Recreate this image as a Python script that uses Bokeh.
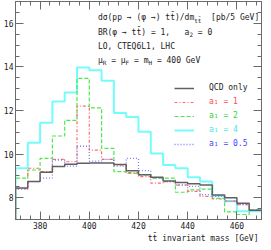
import re
import unicodedata
from bokeh.plotting import figure
from bokeh.models import (Range1d, LinearAxis, SingleIntervalTicker, Label,
                          Legend, LegendItem, Title, CustomLabelingPolicy)
from bokeh.embed import file_html
from bokeh.resources import INLINE

# ---------------- data ----------------
mass_edges = [370, 375, 380, 385, 390, 395, 400, 405, 410, 415, 420,
              425, 430, 435, 440, 445, 450, 455, 460, 465, 470]
qcd_only = [8.44, 8.74, 9.17, 9.43, 9.53, 9.58, 9.59, 9.59, 9.52, 9.24,
            9.05, 8.94, 8.77, 8.70, 8.64, 8.58, 8.12, 8.00, 7.74, 7.43]
a1_eq_1 = [8.42, 9.35, 9.20, 9.76, 9.65, 12.20, 10.18, 9.76, 9.50, 9.15,
           8.97, 8.67, 8.74, 8.58, 8.29, 8.06, 7.94, 7.84, 7.68, 7.43]
a1_eq_2 = [8.90, 9.27, 9.80, 10.83, 11.55, 13.47, 12.12, 10.26, 9.20, 9.12,
           9.05, 8.90, 8.90, 8.25, 8.36, 8.39, 7.97, 7.35, 7.23, 7.43]
a1_eq_4 = [9.35, 10.52, 11.44, 12.41, 12.83, 13.97, 13.85, 13.36, 11.88, 11.70,
           11.02, 10.03, 9.50, 9.35, 8.94, 8.74, 8.09, 7.84, 7.38, 7.38]
a1_eq_05 = [8.39, 8.74, 8.90, 9.73, 9.45, 10.36, 9.68, 9.76, 9.45, 9.80,
            9.24, 8.90, 8.74, 8.59, 8.52, 8.14, 8.06, 7.84, 7.68, 7.43]
x_lim = (370, 470)
y_lim = (7, 17)

MONO = "DejaVu Sans Mono"
AX = "#6a6a6a"

p = figure(width=263, height=242, output_backend="svg", toolbar_location=None,
           x_range=Range1d(*x_lim), y_range=Range1d(*y_lim),
           min_border_left=14, min_border_right=2, min_border_top=1,
           min_border_bottom=0, x_axis_location=None, y_axis_location=None)
p.grid.visible = False
p.outline_line_color = AX
p.background_fill_color = "white"

no_labels = CustomLabelingPolicy(code="return new Set()")


def style_axis(ax, interval, nminor, labels=True):
    ax.ticker = SingleIntervalTicker(interval=interval, num_minor_ticks=nminor)
    ax.axis_line_color = AX
    ax.major_tick_line_color = AX
    ax.minor_tick_line_color = AX
    ax.major_tick_in = 8
    ax.major_tick_out = 0
    ax.minor_tick_in = 4
    ax.minor_tick_out = 0
    ax.major_label_text_font = MONO
    ax.major_label_text_color = "#222222"
    if labels:
        ax.major_label_text_font_size = "8px"
        ax.major_label_standoff = 2
    else:
        ax.major_label_text_font_size = "0px"
        ax.major_label_standoff = 0
        ax.major_label_policy = no_labels


xb = LinearAxis(); style_axis(xb, 20, 5); p.add_layout(xb, "below")
xt = LinearAxis(); style_axis(xt, 20, 5, False); p.add_layout(xt, "above")
yl = LinearAxis(); style_axis(yl, 2, 4); p.add_layout(yl, "left")
yr = LinearAxis(); style_axis(yr, 2, 4, False); p.add_layout(yr, "right")

p.add_layout(Title(text="tt\u0304 invariant mass [GeV]",
                   align="right", text_font=MONO, text_font_size="8px",
                   text_font_style="normal", text_color="#222222",
                   offset=3, standoff=0), "below")


def step_path(edges, vals, base):
    xs, ys = [edges[0]], [base]
    for i, v in enumerate(vals):
        xs += [edges[i], edges[i + 1]]
        ys += [v, v]
    return xs, ys


series = [
    ("a\u2081 = 4", a1_eq_4, "#74fcfc", "#3ee8e8", 2.0, "solid"),
    ("a\u2081 = 2", a1_eq_2, "#4ce84c", "#2ed62e", 1.2, "4 2"),
    ("a\u2081 = 1", a1_eq_1, "#ff6a6a", "#ff4a4a", 1.2, "3 2 1 2"),
    ("a\u2081 = 0.5", a1_eq_05, "#7a7aff", "#4444ff", 1.3, "1 2"),
    ("QCD only", qcd_only, "#606060", "#222222", 1.5, "solid"),
]
rend = {}
for name, vals, col, tcol, lw, dash in series:
    xs, ys = step_path(mass_edges, vals, y_lim[0])
    rend[name] = p.line(xs, ys, line_color=col, line_width=lw, line_dash=dash)

legend_order = ["QCD only", "a\u2081 = 1", "a\u2081 = 2", "a\u2081 = 4", "a\u2081 = 0.5"]
tcolors = {s[0]: s[3] for s in series}
row_centers = [131.5, 117.4, 103.4, 89.3, 75.3]
for name, yc in zip(legend_order, row_centers):
    lg = Legend(items=[LegendItem(label=name, renderers=[rend[name]])],
                location=(159, yc - 5), border_line_color=None,
                background_fill_alpha=0, label_text_color=tcolors[name],
                label_text_font=MONO, label_text_font_size="8px",
                glyph_width=20, glyph_height=10, label_height=10,
                label_standoff=15, padding=0, margin=0, spacing=0)
    p.add_layout(lg)


def ncols(s):
    return sum(1 for ch in s if not unicodedata.combining(ch))


def rich(x, y, segs, color="#222222"):
    """Place text pieces (normal / subscript) side by side; runs of spaces
    (which SVG collapses) are turned into cursor advances."""
    cur = 0.0
    for txt, sub in segs:
        fs = 6 if sub else 8
        cw = 0.602 * fs
        for part in re.split(r"( {2,}|^ +)", txt):
            if not part:
                continue
            if part.strip() == "":
                cur += cw * len(part)
                continue
            p.add_layout(Label(x=x, y=y, x_offset=cur,
                               y_offset=-2.5 if sub else 0, text=part,
                               text_font=MONO, text_font_size=f"{fs}px",
                               text_baseline="middle", text_color=color))
            cur += cw * ncols(part)


tt = "tt\u0304"
rich(403.5, 16.26, [("d\u03c3(pp \u2192 (\u03c6 \u2192) " + tt + ")/dm", False),
                    (tt, True), ("  [pb/5 GeV]", False)])
rich(403.5, 15.58, [("BR(\u03c6 \u2192 " + tt + ") = 1,   a", False), ("2", True),
                    (" = 0", False)])
rich(403.5, 14.94, [("LO, CTEQ6L1, LHC", False)])
rich(403.5, 14.30, [("\u03bc", False), ("R", True), (" = \u03bc", False), ("F", True),
                    (" = m", False), ("H", True), (" = 400 GeV", False)])

open("out.html", "w").write(file_html(p, INLINE))
